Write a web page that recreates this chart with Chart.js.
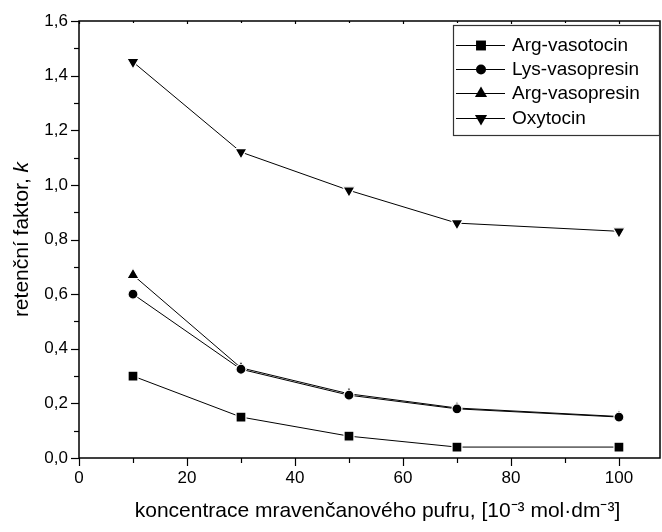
<!DOCTYPE html>
<html><head><meta charset="utf-8">
<script src="https://cdn.jsdelivr.net/npm/chart.js@4/dist/chart.umd.min.js"></script>
<style>html,body{margin:0;padding:0;background:#fff}#c{display:block}</style>
</head><body>
<canvas id="c" width="662" height="532"></canvas>
<script>
const concentrations = [10, 30, 50, 70, 100];
const argVasotocin = [0.30, 0.15, 0.08, 0.04, 0.04];
const lysVasopresin = [0.60, 0.325, 0.23, 0.18, 0.15];
const argVasopresin = [0.67, 0.33, 0.235, 0.183, 0.152];
const oxytocin = [1.45, 1.12, 0.98, 0.86, 0.83];
const seriesNames = ['Arg-vasotocin', 'Lys-vasopresin', 'Arg-vasopresin', 'Oxytocin'];
const xTicks = [0, 20, 40, 60, 80, 100];
const yTicks = [0.0, 0.2, 0.4, 0.6, 0.8, 1.0, 1.2, 1.4, 1.6];
const xTitle = 'koncentrace mravenčanového pufru, [10⁻³ mol·dm⁻³]';
const yTitle = 'retenční faktor, ';
const yTitleItalic = 'k';

const FONT = '"Liberation Sans", Arial, sans-serif';
const markers = [
  {style: 'rect', radius: 7, rotation: 0},
  {style: 'circle', radius: 5, rotation: 0},
  {style: 'triangle', radius: 7, rotation: 0},
  {style: 'triangle', radius: 7, rotation: 180}
];
const seriesData = [argVasotocin, lysVasopresin, argVasopresin, oxytocin];

const datasets = seriesData.map((vals, i) => ({
  label: seriesNames[i],
  data: concentrations.map((x, j) => ({x: x, y: vals[j]})),
  borderColor: '#000',
  borderWidth: 1,
  backgroundColor: '#000',
  pointStyle: markers[i].style,
  pointRadius: markers[i].radius,
  pointRotation: markers[i].rotation,
  pointBackgroundColor: '#000',
  pointBorderColor: '#fff',
  pointBorderWidth: 1.2,
  pointHoverRadius: markers[i].radius,
  tension: 0,
  fill: false
}));

const axesPlugin = {
  id: 'axesPlugin',
  afterDatasetsDraw(chart) {
    const ctx = chart.ctx;
    const a = chart.chartArea;
    const xs = chart.scales.x, ys = chart.scales.y;
    ctx.save();
    ctx.strokeStyle = '#000';
    ctx.fillStyle = '#000';
    ctx.lineWidth = 1.5;
    ctx.strokeRect(a.left, a.top, a.right - a.left, a.bottom - a.top);
    ctx.lineWidth = 1.2;
    for (let v = 0; v <= 100; v += 10) {
      const px = Math.round(xs.getPixelForValue(v)) + 0.5;
      const major = v % 20 === 0;
      ctx.beginPath();
      ctx.moveTo(px, a.bottom);
      ctx.lineTo(px, a.bottom + (major ? 8 : 5));
      ctx.stroke();
      ctx.beginPath();
      ctx.moveTo(px, a.top);
      ctx.lineTo(px, a.top + (major ? 3 : 2));
      ctx.stroke();
    }
    for (let k = 0; k <= 16; k++) {
      const v = k / 10;
      const py = Math.round(ys.getPixelForValue(v)) + 0.5;
      const major = k % 2 === 0;
      ctx.beginPath();
      ctx.moveTo(a.left, py);
      ctx.lineTo(a.left - (major ? 8 : 5), py);
      ctx.stroke();
    }
    ctx.font = '17px ' + FONT;
    ctx.textAlign = 'center';
    ctx.textBaseline = 'top';
    xTicks.forEach(v => ctx.fillText(String(v), xs.getPixelForValue(v), a.bottom + 12));
    ctx.textAlign = 'right';
    ctx.textBaseline = 'middle';
    yTicks.forEach(v => ctx.fillText(v.toFixed(1).replace('.', ','), a.left - 11, ys.getPixelForValue(v)));
    ctx.font = '21px ' + FONT;
    ctx.textAlign = 'center';
    ctx.textBaseline = 'alphabetic';
    ctx.fillText(xTitle, (a.left + a.right) / 2 + 8, 517);
    ctx.save();
    ctx.translate(28, (a.top + a.bottom) / 2);
    ctx.rotate(-Math.PI / 2);
    ctx.font = '21px ' + FONT;
    const w1 = ctx.measureText(yTitle).width;
    ctx.font = 'italic 21px ' + FONT;
    const w2 = ctx.measureText(yTitleItalic).width;
    const start = -(w1 + w2) / 2;
    ctx.textAlign = 'left';
    ctx.font = '21px ' + FONT;
    ctx.fillText(yTitle, start, 0);
    ctx.font = 'italic 21px ' + FONT;
    ctx.fillText(yTitleItalic, start + w1, 0);
    ctx.restore();
    const lx = 453, ly = 25, lw = 207, lh = 111;
    ctx.fillStyle = '#fff';
    ctx.fillRect(lx, ly, lw, lh);
    ctx.fillStyle = '#000';
    ctx.lineWidth = 1.2;
    ctx.strokeStyle = '#333';
    ctx.strokeRect(lx + 0.5, ly + 0.5, lw - 1, lh - 1);
    ctx.strokeStyle = '#000';
    const rows = [45, 69, 93, 118];
    ctx.font = '19px ' + FONT;
    ctx.textAlign = 'left';
    ctx.textBaseline = 'middle';
    seriesNames.forEach((name, i) => {
      const y = rows[i] + 0.5;
      ctx.lineWidth = 1;
      ctx.beginPath();
      ctx.moveTo(456, y);
      ctx.lineTo(505, y);
      ctx.stroke();
      Chart.helpers.drawPoint(ctx, {pointStyle: markers[i].style, rotation: markers[i].rotation, radius: markers[i].radius, borderWidth: 0}, 481, y);
      ctx.fillStyle = '#000';
      ctx.fillText(name, 512, rows[i] + 1);
    });
    ctx.restore();
  }
};

new Chart(document.getElementById('c'), {
  type: 'line',
  data: {datasets: datasets},
  options: {
    responsive: false,
    animation: false,
    layout: {autoPadding: false, padding: {left: 79, top: 21, right: 2, bottom: 74}},
    plugins: {legend: {display: false}, tooltip: {enabled: false}},
    scales: {
      x: {type: 'linear', min: 0, max: 107.6, display: false},
      y: {type: 'linear', min: 0, max: 1.6, display: false}
    }
  },
  plugins: [axesPlugin]
});
</script>
</body></html>
